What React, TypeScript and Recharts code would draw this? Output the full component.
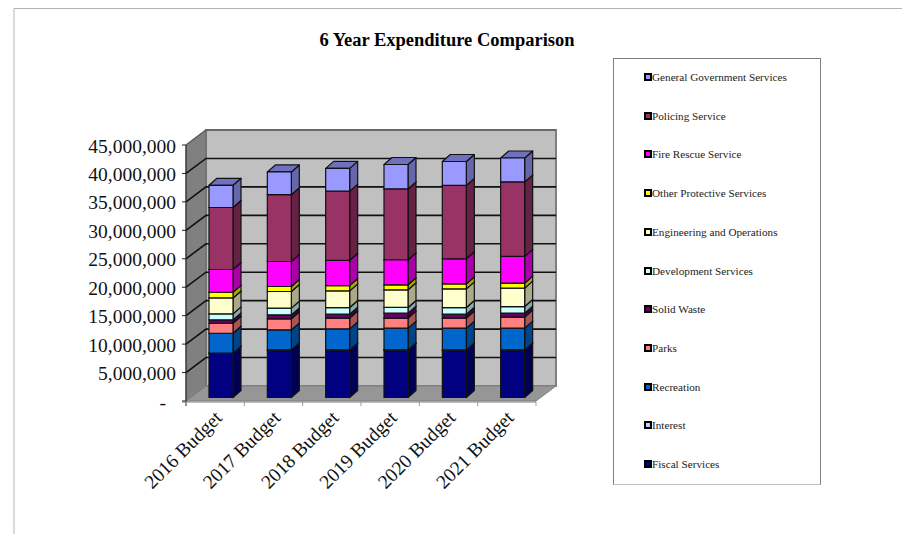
import { Bar, BarChart, Customized, Legend, XAxis, YAxis } from "recharts";

const categories = ["2016 Budget", "2017 Budget", "2018 Budget", "2019 Budget", "2020 Budget", "2021 Budget"];

// values, bottom of the stack first
const fiscalServices = [7750000, 8330000, 8330000, 8330000, 8330000, 8330000];
const interest = [40000, 40000, 40000, 40000, 40000, 40000];
const recreation = [3500000, 3520000, 3700000, 3820000, 3820000, 3820000];
const parks = [1760000, 1940000, 1880000, 1760000, 1760000, 1940000];
const solidWaste = [600000, 700000, 700000, 880000, 700000, 700000];
const developmentServices = [1050000, 1180000, 1160000, 1000000, 1160000, 1160000];
const engineeringOperations = [2800000, 2920000, 2930000, 3100000, 3290000, 3230000];
const otherProtective = [1000000, 880000, 930000, 880000, 880000, 880000];
const fireRescue = [4000000, 4400000, 4450000, 4400000, 4400000, 4700000];
const policing = [10900000, 11740000, 12150000, 12450000, 12900000, 13100000];
const generalGovernment = [3900000, 4000000, 4000000, 4300000, 4200000, 4200000];

const yTicks = [0, 5000000, 10000000, 15000000, 20000000, 25000000, 30000000, 35000000, 40000000, 45000000];

const seriesList = [
  { name: "Fiscal Services", values: fiscalServices, color: "#000080", side: "#000055" },
  { name: "Interest", values: interest, color: "#ccccff", side: "#8888aa" },
  { name: "Recreation", values: recreation, color: "#0066cc", side: "#004488" },
  { name: "Parks", values: parks, color: "#ff8080", side: "#aa5555" },
  { name: "Solid Waste", values: solidWaste, color: "#660066", side: "#440044" },
  { name: "Development Services", values: developmentServices, color: "#ccffff", side: "#88aaaa" },
  { name: "Engineering and Operations", values: engineeringOperations, color: "#ffffcc", side: "#aaaa88" },
  { name: "Other Protective Services", values: otherProtective, color: "#ffff00", side: "#aaaa00" },
  { name: "Fire Rescue Service", values: fireRescue, color: "#ff00ff", side: "#aa00aa" },
  { name: "Policing Service", values: policing, color: "#993366", side: "#662244" },
  { name: "General Government Services", values: generalGovernment, color: "#9999ff", side: "#6666aa" },
];

const chartData = categories.map((label, i) => {
  const row: Record<string, string | number> = { label };
  seriesList.forEach((s) => {
    row[s.name] = s.values[i];
  });
  return row;
});

const serif = "'Liberation Serif', serif";

// front plane of the fake 3D box
const LEFT = 186;
const RIGHT = 536;
const TOP = 145;
const BOTTOM = 401;
const DEPTH_X = 20;
const DEPTH_Y = 15;
const BAR_DEPTH_X = 8;
const BAR_DEPTH_Y = 7;
const MAX_VALUE = 45000000;

function Walls() {
  const frontY = (v: number) => BOTTOM - (v / MAX_VALUE) * (BOTTOM - TOP);
  const bandWidth = (RIGHT - LEFT) / categories.length;
  return (
    <g>
      <polyline points="14,534 14,8.5 902,8.5" fill="none" stroke="#b4b4b4" strokeWidth={1} />
      <text x={447} y={46} textAnchor="middle" fontFamily={serif} fontWeight="bold" fontSize={18.5}>
        6 Year Expenditure Comparison
      </text>
      <rect
        x={LEFT + DEPTH_X}
        y={TOP - DEPTH_Y}
        width={RIGHT - LEFT}
        height={BOTTOM - TOP}
        fill="#c0c0c0"
        stroke="#808080"
        strokeWidth={2}
      />
      <polygon
        points={`${LEFT},${TOP} ${LEFT + DEPTH_X},${TOP - DEPTH_Y} ${LEFT + DEPTH_X},${BOTTOM - DEPTH_Y} ${LEFT},${BOTTOM}`}
        fill="#808080"
        stroke="#666"
        strokeWidth={1}
      />
      <polygon
        points={`${LEFT},${BOTTOM} ${LEFT + DEPTH_X},${BOTTOM - DEPTH_Y} ${RIGHT + DEPTH_X},${BOTTOM - DEPTH_Y} ${RIGHT},${BOTTOM}`}
        fill="#969696"
        stroke="#808080"
        strokeWidth={1}
      />
      {yTicks.slice(1).map((v) => (
        <polyline
          key={v}
          points={`${LEFT},${frontY(v)} ${LEFT + DEPTH_X},${frontY(v) - DEPTH_Y} ${RIGHT + DEPTH_X},${frontY(v) - DEPTH_Y}`}
          fill="none"
          stroke={v === 45000000 ? "#606060" : "#111"}
          strokeWidth={v === 45000000 ? 1.5 : 1.6}
        />
      ))}
      <line x1={LEFT} x2={LEFT} y1={TOP} y2={BOTTOM + 5} stroke="#222" strokeWidth={1} />
      <line x1={LEFT - 4} x2={RIGHT} y1={BOTTOM + 1} y2={BOTTOM + 1} stroke="#808080" strokeWidth={1} />
      {categories.map((label, i) => (
        <line
          key={label}
          x1={LEFT + bandWidth * (i + 1)}
          x2={LEFT + bandWidth * (i + 1)}
          y1={BOTTOM + 1}
          y2={BOTTOM + 5}
          stroke="#999"
        />
      ))}
    </g>
  );
}

// one stack segment as a box: side and top first, then the front face
function BoxShape(props: any) {
  const { x, y, width, height, fill, side } = props;
  const fx = x + 6;
  const fy = y - 3.5;
  const r = fx + width;
  const b = fy + height;
  return (
    <g stroke="#111" strokeWidth={1.2} strokeLinejoin="round">
      <polygon
        points={`${r},${fy} ${r + BAR_DEPTH_X},${fy - BAR_DEPTH_Y} ${r + BAR_DEPTH_X},${b - BAR_DEPTH_Y} ${r},${b}`}
        fill={side}
      />
      <polygon
        points={`${fx},${fy} ${fx + BAR_DEPTH_X},${fy - BAR_DEPTH_Y} ${r + BAR_DEPTH_X},${fy - BAR_DEPTH_Y} ${r},${fy}`}
        fill={side === "#6666aa" ? "#7070c0" : side}
      />
      <rect x={fx} y={fy} width={width} height={height} fill={fill} />
    </g>
  );
}

function YTick({ x, y, payload }: any) {
  const isZero = payload.value === 0;
  return (
    <g>
      <line x1={182} x2={186} y1={y} y2={y} stroke="#222" />
      <text
        x={isZero ? x - 14 : x - 4}
        y={y + 7.5}
        textAnchor="end"
        fontFamily={serif}
        fontSize={19.5}
        fill="#111"
      >
        {isZero ? "-" : payload.value.toLocaleString("en-US")}
      </text>
    </g>
  );
}

function XTick({ x, payload }: any) {
  return (
    <text
      transform={`translate(${x + 8},${BOTTOM + 18}) rotate(-45)`}
      textAnchor="end"
      fontFamily={serif}
      fontSize={19.5}
      fill="#111"
    >
      {payload.value}
    </text>
  );
}

function LegendBox({ payload }: any) {
  // top of the box is the top of the stack
  const order = seriesList.map((s) => s.name).reverse();
  const items = [...(payload ?? [])].sort((a: any, b: any) => order.indexOf(a.value) - order.indexOf(b.value));
  return (
    <div
      style={{
        boxSizing: "border-box",
        width: 208,
        height: 427,
        border: "1px solid #808080",
        borderBottomColor: "#c0c0c0",
        background: "#fff",
        position: "relative",
      }}
    >
      {items.map((item: any, i: number) => (
        <div
          key={item.value}
          style={{
            position: "absolute",
            left: 30,
            top: 11 + i * 38.7,
            display: "flex",
            alignItems: "center",
            height: 14,
            whiteSpace: "nowrap",
            fontFamily: serif,
            fontSize: 11.2,
            color: "#222",
          }}
        >
          <span
            style={{
              display: "inline-block",
              boxSizing: "border-box",
              width: 8,
              height: 8,
              border: "2px solid #000",
              background: item.color,
            }}
          />
          {item.value}
        </div>
      ))}
    </div>
  );
}

export default function App() {
  return (
    <div style={{ position: "absolute", left: 0, top: 0, width: 902, height: 534, overflow: "hidden" }}>
      <BarChart
        width={902}
        height={534}
        data={chartData}
        barSize={24}
        margin={{ top: TOP, right: 158, left: 86, bottom: 33 }}
      >
        <Customized component={<Walls />} />
        <XAxis dataKey="label" height={100} axisLine={false} tickLine={false} interval={0} tick={<XTick />} />
        <YAxis
          width={100}
          domain={[0, MAX_VALUE]}
          ticks={yTicks}
          interval={0}
          axisLine={false}
          tickLine={false}
          tickMargin={0}
          tick={<YTick />}
        />
        <Legend
          layout="vertical"
          align="right"
          verticalAlign="top"
          content={<LegendBox />}
          wrapperStyle={{ left: 613, top: 58, width: 208, height: 427, right: "auto" }}
        />
        {seriesList.map((s) => (
          <Bar
            key={s.name}
            dataKey={s.name}
            stackId="budget"
            fill={s.color}
            isAnimationActive={false}
            shape={(p: any) => <BoxShape {...p} side={s.side} />}
          />
        ))}
      </BarChart>
    </div>
  );
}
